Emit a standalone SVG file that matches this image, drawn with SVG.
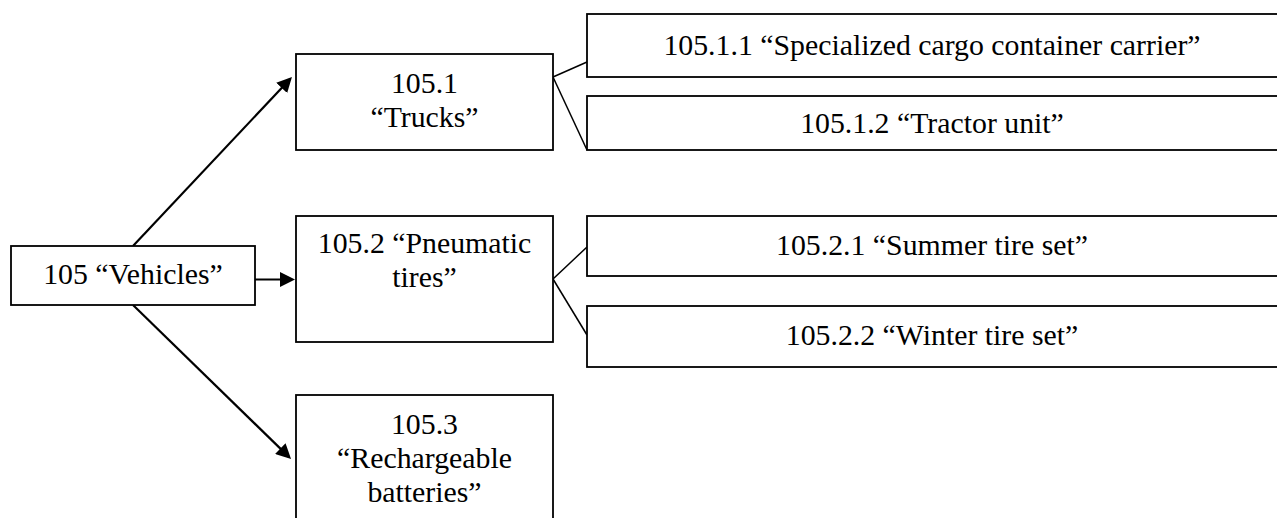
<svg xmlns="http://www.w3.org/2000/svg" width="1277" height="518" viewBox="0 0 1277 518">
<style>
.box{fill:#fff;stroke:#000;stroke-width:1.8}
text{font-family:'Liberation Serif','Times New Roman',serif;font-size:29.8px;fill:#000;text-anchor:middle}
.arr{fill:none;stroke:#000;stroke-width:2.2;marker-end:url(#ah)}
.con{fill:none;stroke:#000;stroke-width:1.5}
</style>
<defs>
<marker id="ah" viewBox="0 0 15 15" refX="12" refY="7.5" markerWidth="15" markerHeight="15" markerUnits="userSpaceOnUse" orient="auto">
<path d="M0,0 L15,7.5 L0,15 z" fill="#000"/>
</marker>
</defs>
<rect width="1277" height="518" fill="#fff"/>
<g id="connectors">
<path class="arr" d="M133,246 L289.9,79.2"/>
<path class="arr" d="M255,279.5 L292,279.5"/>
<path class="arr" d="M133,305 L288.9,456.9"/>
<path class="con" d="M553,77 L587,62"/>
<path class="con" d="M553,77 L587,150"/>
<path class="con" d="M553,279 L587,247"/>
<path class="con" d="M553,279 L587,335"/>
</g>
<g id="n105">
<rect class="box" x="11" y="246" width="244" height="59"/>
<text x="133" y="284">105 “Vehicles”</text>
</g>
<g id="n105_1">
<rect class="box" x="296" y="54" width="257" height="96"/>
<text x="424.5" y="92.5">105.1</text>
<text x="424.5" y="126.5">“Trucks”</text>
</g>
<g id="n105_2">
<rect class="box" x="296" y="216" width="257" height="126"/>
<text x="424.5" y="253">105.2 “Pneumatic</text>
<text x="424.5" y="286.5">tires”</text>
</g>
<g id="n105_3">
<rect class="box" x="296" y="395" width="257" height="140"/>
<text x="424.5" y="433.5">105.3</text>
<text x="424.5" y="468">“Rechargeable</text>
<text x="424.5" y="502">batteries”</text>
</g>
<g id="n105_1_1">
<rect class="box" x="587" y="14" width="700" height="63"/>
<text x="932" y="55">105.1.1 “Specialized cargo container carrier”</text>
</g>
<g id="n105_1_2">
<rect class="box" x="587" y="96" width="700" height="54"/>
<text x="932" y="133">105.1.2 “Tractor unit”</text>
</g>
<g id="n105_2_1">
<rect class="box" x="587" y="216" width="700" height="60"/>
<text x="932" y="255">105.2.1 “Summer tire set”</text>
</g>
<g id="n105_2_2">
<rect class="box" x="587" y="306" width="700" height="61"/>
<text x="932" y="345">105.2.2 “Winter tire set”</text>
</g>
</svg>
